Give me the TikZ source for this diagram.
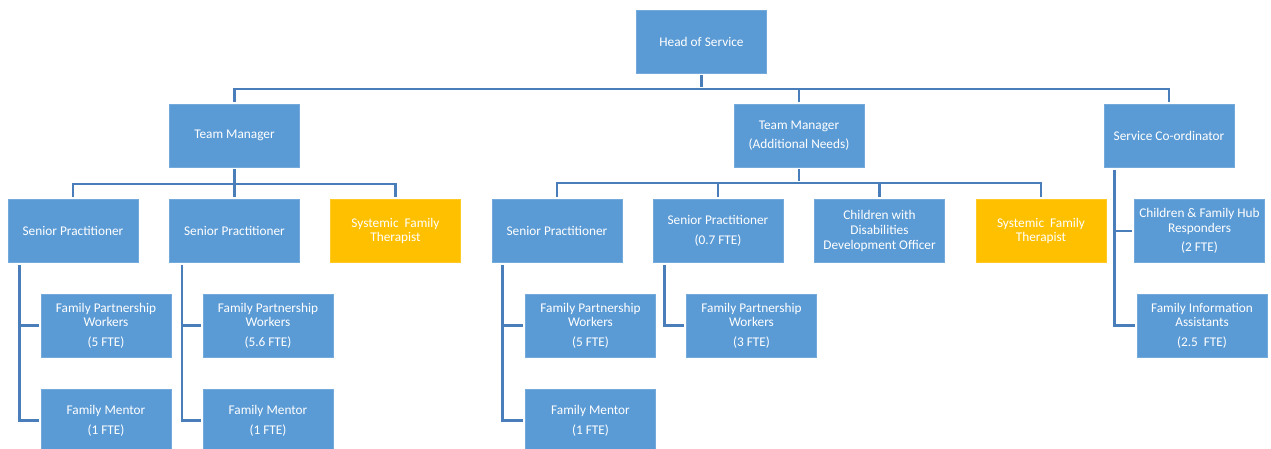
\documentclass[tikz,border=0pt]{standalone}
\usepackage{fontspec}
\setmainfont{Carlito}
\usepackage{tikz}
\definecolor{boxblue}{HTML}{5B9BD5}
\definecolor{boxgold}{HTML}{FFC000}
\definecolor{lineblue}{HTML}{4A7EBB}

\begin{document}
\begin{tikzpicture}[x=1pt,y=-1pt,
  post/.style={fill=boxblue, draw=boxblue!85!white, line width=0.6pt, text=white,
    minimum width=130pt, minimum height=63pt, inner sep=1pt, align=center,
    font=\fontsize{13.3}{14.6}\selectfont},
  gold/.style={post, fill=boxgold, draw=boxgold!85!white},
  conn/.style={draw=lineblue, line width=2.5pt, shorten >=2pt, shorten <=2pt}]

\useasboundingbox (0,0) rectangle (1271,448);
\clip (0,0) rectangle (1271,448);

% top
\node[post] (head) at (701.5,41.5) {Head of Service};

\node[post] (tm1) at (234.5,135.5) {Team Manager};
\node[post] (tm2) at (799,135.5) {Team Manager\\[5pt](Additional Needs)};
\node[post] (sc) at (1169,136) {Service Co-ordinator};

% third row
\node[post] (sp1) at (73,231) {Senior Practitioner};
\node[post] (sp2) at (234.5,231) {Senior Practitioner};
\node[gold] (sft1) at (395.5,231) {Systemic\ \ Family\\Therapist};
\node[post] (sp3) at (557,231) {Senior Practitioner};
\node[post] (sp4) at (718,231) {Senior Practitioner\\[5pt](0.7 FTE)};
\node[post] (cwd) at (879.5,231) {Children with\\Disabilities\\Development Officer};
\node[gold] (sft2) at (1041,231) {Systemic\ \ Family\\Therapist};
\node[post] (cfh) at (1199.5,231) {Children \& Family Hub\\Responders\\[5pt](2 FTE)};

% fourth row
\node[post] (fpw1) at (106,325.5) {Family Partnership\\Workers\\[5pt](5 FTE)};
\node[post] (fpw2) at (268,325.5) {Family Partnership\\Workers\\[5pt](5.6 FTE)};
\node[post] (fpw3) at (590.5,325.5) {Family Partnership\\Workers\\[5pt](5 FTE)};
\node[post] (fpw4) at (751.5,325.5) {Family Partnership\\Workers\\[5pt](3 FTE)};
\node[post] (fia) at (1202,325.5) {Family Information\\Assistants\\[5pt](2.5\ \ FTE)};

% bottom row
\node[post] (fm1) at (106,420.5) {Family Mentor\\[5pt](1 FTE)};
\node[post] (fm2) at (268,420.5) {Family Mentor\\[5pt](1 FTE)};
\node[post] (fm3) at (590.5,420.5) {Family Mentor\\[5pt](1 FTE)};

% buses
\coordinate (hb) at (701.5,89);
\coordinate (tb1) at (234.5,184);
\coordinate (tb2) at (799,183);

\draw[conn] (head.south) -- (hb);
\draw[conn] (tm1.north) |- (hb) -| (sc.north);
\draw[conn] (hb) -| (tm2.north);

\draw[conn] (tm1.south) -- (sp2.north);
\draw[conn] (sp1.north) |- (tb1) -| (sft1.north);

\draw[conn] (tm2.south) -- (tb2);
\draw[conn] (sp3.north) |- (tb2) -| (sft2.north);
\draw[conn] (tb2) -| (sp4.north);
\draw[conn] (tb2) -| (cwd.north);

% side branches
\coordinate (v1) at ([xshift=12pt]sp1.south west);
\coordinate (v2) at ([xshift=13pt]sp2.south west);
\coordinate (v3) at ([xshift=11pt]sp3.south west);
\coordinate (v4) at ([xshift=12pt]sp4.south west);
\coordinate (v5) at ([xshift=11pt]sc.south west);

\draw[conn] (v1) |- (fm1.west);
\draw[conn, shorten <=0pt] (v1 |- fpw1.west) -- (fpw1.west);
\draw[conn] (v2) |- (fm2.west);
\draw[conn, shorten <=0pt] (v2 |- fpw2.west) -- (fpw2.west);
\draw[conn] (v3) |- (fm3.west);
\draw[conn, shorten <=0pt] (v3 |- fpw3.west) -- (fpw3.west);
\draw[conn] (v4) |- (fpw4.west);
\draw[conn] (v5) |- (fia.west);
\draw[conn, shorten <=0pt] (v5 |- cfh.west) -- (cfh.west);

\end{tikzpicture}
\end{document}
